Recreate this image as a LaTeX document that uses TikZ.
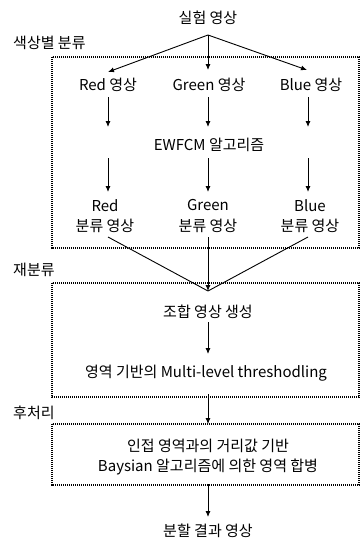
\documentclass[tikz,border=0pt]{standalone}
\usepackage{fontspec}
\setmainfont{Noto Sans CJK KR}
\usetikzlibrary{arrows.meta}
\begin{document}
\begin{tikzpicture}[x=1pt,y=-1pt,
  txt/.style={inner sep=1pt,font=\fontsize{15}{20.5}\selectfont,align=center},
  grp/.style={draw,line width=1.6pt,dash pattern=on 1.2pt off 0.8pt},
  arr/.style={line width=0.9pt,-{Latex[length=6pt,width=5pt]}},
  ln/.style={line width=0.9pt}]
\useasboundingbox (0,0) rectangle (360,546);
% group boxes
\draw[grp] (52,57) rectangle (359,248);
\draw[grp] (52,283) rectangle (359,397);
\draw[grp] (52,424) rectangle (359,485);
% group labels
\node[txt,anchor=west] (lab1) at (12,43) {색상별 분류};
\node[txt,anchor=west] (lab2) at (12,270) {재분류};
\node[txt,anchor=west] (lab3) at (12,413) {후처리};
% nodes
\node[txt] (src) at (208,18) {실험 영상};
\node[txt] (r) at (108,85) {Red 영상};
\node[txt] (g) at (209,85) {Green 영상};
\node[txt] (b) at (311,85) {Blue 영상};
\node[txt] (ew) at (209,145) {EWFCM 알고리즘};
\node[txt] (rc) at (105,216) {Red\\분류 영상};
\node[txt] (gc) at (208,216) {Green\\분류 영상};
\node[txt] (bc) at (310,216) {Blue\\분류 영상};
\node[txt] (comb) at (208,312) {조합 영상 생성};
\node[txt] (thr) at (206,373) {영역 기반의 Multi-level threshodling};
\node[txt] (merge) at (208,457) {인접 영역과의 거리값 기반\\Baysian 알고리즘에 의한 영역 합병};
\node[txt] (res) at (208,531) {분할 결과 영상};
% coordinates
\coordinate (s0) at (208,35);
\coordinate (rt) at (108,72);
\coordinate (gt) at (208,70);
\coordinate (bt) at (307,70);
\coordinate (r1) at (108,97);
\coordinate (r2) at (108,127);
\coordinate (g1) at (208,97);
\coordinate (g2) at (208,127);
\coordinate (b1) at (308,97);
\coordinate (b2) at (308,127);
\coordinate (r3) at (108,158);
\coordinate (r4) at (108,192);
\coordinate (g3) at (208,158);
\coordinate (g4) at (208,192);
\coordinate (b3) at (308,158);
\coordinate (b4) at (308,192);
\coordinate (rc1) at (108,237);
\coordinate (gc1) at (208,237);
\coordinate (bc1) at (308,237);
\coordinate (m) at (208,291);
\coordinate (c1) at (208,322);
\coordinate (c2) at (208,354);
\coordinate (t1) at (208,394);
\coordinate (t2) at (208,424);
\coordinate (h1) at (208,484);
\coordinate (h2) at (208,517);
% connectors
\draw[arr] (s0) -- (rt);
\draw[arr] (s0) -- (gt);
\draw[arr] (s0) -- (bt);
\draw[arr] (r1) -- (r2);
\draw[arr] (g1) -- (g2);
\draw[arr] (b1) -- (b2);
\draw[arr] (r3) -- (r4);
\draw[arr] (g3) -- (g4);
\draw[arr] (b3) -- (b4);
\draw[ln] (rc1) -- (m);
\draw[ln] (bc1) -- (m);
\draw[arr] (gc1) -- (m);
\draw[arr] (c1) -- (c2);
\draw[arr] (t1) -- (t2);
\draw[arr] (h1) -- (h2);
\end{tikzpicture}
\end{document}
